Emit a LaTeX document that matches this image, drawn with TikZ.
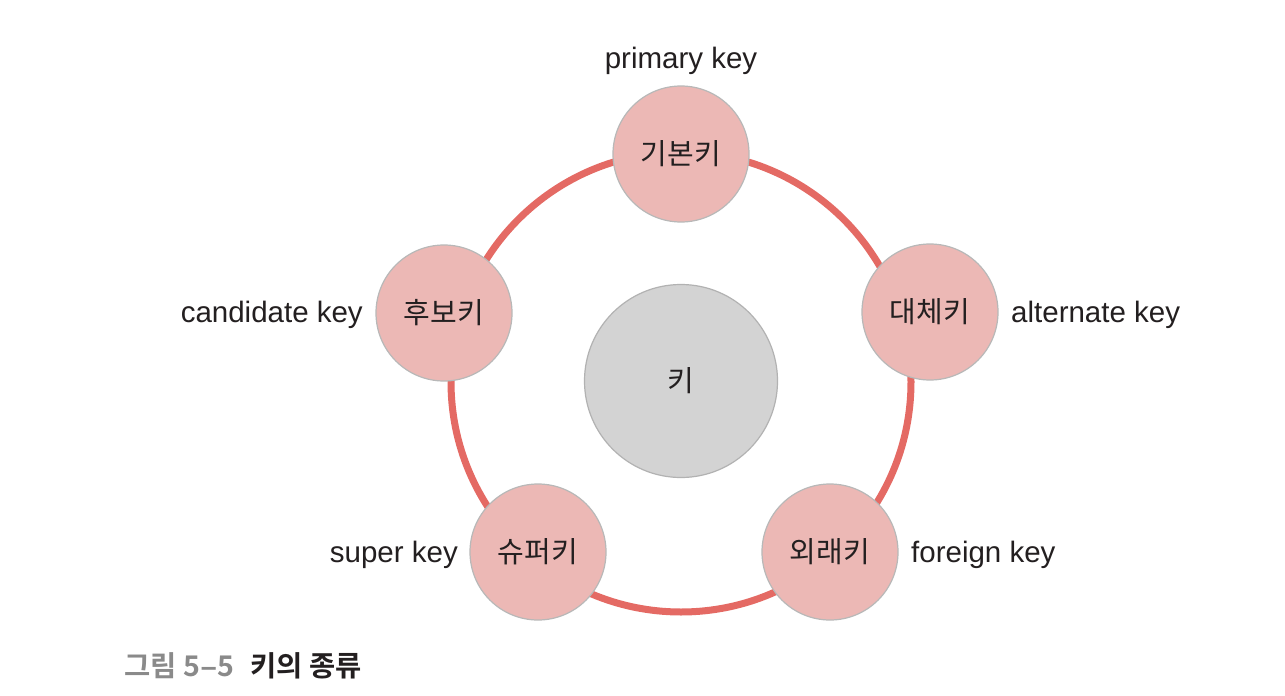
\documentclass[tikz,border=0pt]{standalone}
\usepackage{fontspec}
\setmainfont{Liberation Sans}
\newfontfamily\kr{Noto Sans CJK KR}
\newfontfamily\krb{Noto Sans CJK KR Bold}
\definecolor{ringc}{HTML}{E46A64}
\definecolor{nodefill}{HTML}{ECB8B5}
\definecolor{nodeline}{HTML}{B8B8B8}
\definecolor{centerfill}{HTML}{D3D3D3}
\definecolor{centerline}{HTML}{B2B2B2}
\definecolor{capgray}{HTML}{8A8A8A}
\definecolor{txt}{HTML}{231F20}
\tikzset{
  keynode/.style={circle, draw=nodeline, line width=1.2pt, fill=nodefill, minimum size=136pt, inner sep=0pt, font=\kr\fontsize{29}{29}\selectfont, text=txt},
  centernode/.style={circle, draw=centerline, line width=1.2pt, fill=centerfill, minimum size=193pt, inner sep=0pt, font=\kr\fontsize{29}{29}\selectfont, text=txt},
  lbl/.style={font=\fontsize{29.5}{30}\selectfont, text=txt, inner sep=0pt},
}
\begin{document}
\begin{tikzpicture}[x=1pt,y=-1pt]
\useasboundingbox (0,0) rectangle (1285,696);
\fill[white] (0,0) rectangle (1285,696);
\coordinate (ringc) at (681,382);
\draw[ringc, line width=7pt] (ringc) circle (230);
\node[centernode] (key) at (681,381) {키};
\node[keynode] (pk) at (681,154) {기본키};
\node[keynode] (ck) at (444,313) {후보키};
\node[keynode] (ak) at (930,312) {대체키};
\node[keynode] (sk) at (538,552) {슈퍼키};
\node[keynode] (fk) at (830,552) {외래키};
\node[lbl, anchor=base] (pkl) at (681,68) {primary key};
\node[lbl, anchor=base east] (ckl) at (363,322) {candidate key};
\node[lbl, anchor=base west] (akl) at (1011,322) {alternate key};
\node[lbl, anchor=base east] (skl) at (458,562) {super key};
\node[lbl, anchor=base west] (fkl) at (911,562) {foreign key};
\node[anchor=base west, inner sep=0pt, font=\krb\fontsize{28.5}{29}\selectfont] (cap) at (124,676) {\textcolor{capgray}{그림 5{\fontspec{Liberation Sans Bold}\hspace{1pt}\char"2013\hspace{1pt}}5}\hspace{16pt}\textcolor{txt}{키의 종류}};
\end{tikzpicture}
\end{document}
